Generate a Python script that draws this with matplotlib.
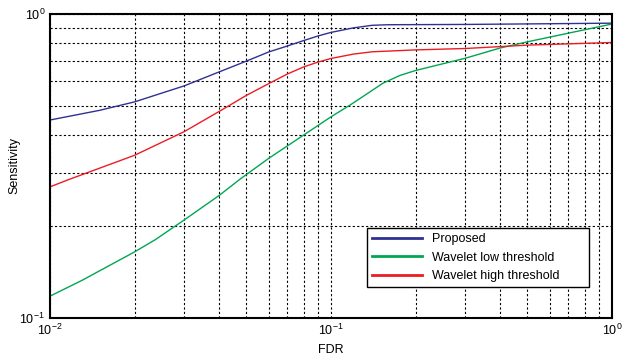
import matplotlib
matplotlib.use('Agg')
import matplotlib.pyplot as plt
from matplotlib.ticker import NullFormatter

plt.rcParams['font.family'] = ['Liberation Sans', 'DejaVu Sans']
plt.rcParams['mathtext.fontset'] = 'custom'
plt.rcParams['mathtext.rm'] = 'Liberation Sans'

# values (FDR vs sensitivity)
fdr_prop = [0.01, 0.015, 0.02, 0.03, 0.04, 0.05, 0.06, 0.07, 0.08, 0.09, 0.1, 0.12, 0.14, 0.16, 0.3, 0.6, 1.0]
sens_prop = [0.448, 0.482, 0.514, 0.58, 0.645, 0.70, 0.75, 0.785, 0.818, 0.847, 0.87, 0.90, 0.918, 0.922, 0.924, 0.929, 0.933]

fdr_low = [0.01, 0.013, 0.02, 0.0237, 0.03, 0.04, 0.0474, 0.06, 0.08, 0.1, 0.117, 0.135, 0.153, 0.176, 0.2, 0.3, 0.4, 0.5, 0.7, 1.0]
sens_low = [0.118, 0.133, 0.165, 0.181, 0.21, 0.253, 0.286, 0.335, 0.40, 0.459, 0.502, 0.548, 0.592, 0.628, 0.652, 0.715, 0.773, 0.81, 0.865, 0.927]

fdr_high = [0.01, 0.0115, 0.02, 0.03, 0.04, 0.05, 0.06, 0.07, 0.08, 0.09, 0.1, 0.12, 0.14, 0.2, 0.3, 0.5, 1.0]
sens_high = [0.27, 0.284, 0.343, 0.41, 0.478, 0.54, 0.59, 0.635, 0.67, 0.695, 0.714, 0.738, 0.751, 0.762, 0.77, 0.79, 0.806]

fig = plt.figure(figsize=(6.29, 3.6), dpi=100)
ax = fig.add_axes([0.0795, 0.1167, 0.8935, 0.8444])

ax.plot(fdr_prop, sens_prop, color='#2e3192', lw=1.0, label='Proposed')
ax.plot(fdr_low, sens_low, color='#00a651', lw=1.0, label='Wavelet low threshold')
ax.plot(fdr_high, sens_high, color='#ed1c24', lw=1.0, label='Wavelet high threshold')

ax.set_xscale('log')
ax.set_yscale('log')
ax.set_xlim(0.01, 1)
ax.set_ylim(0.1, 1)
ax.xaxis.set_minor_formatter(NullFormatter())
ax.yaxis.set_minor_formatter(NullFormatter())

ax.grid(True, which='both', color='black', linestyle=(0, (2, 2)), linewidth=0.8)
ax.tick_params(which='both', direction='in', labelsize=9, length=0)
for s in ax.spines.values():
    s.set_linewidth(1.5)

ax.set_xlabel('FDR', fontsize=9)
ax.set_ylabel('Sensitivity', fontsize=9)
ax.yaxis.set_label_coords(-0.052, 0.5)

leg = ax.legend(loc='lower left', bbox_to_anchor=(0.564, 0.102, 0.395, 0.27), mode='expand',
                fontsize=9, handlelength=4, fancybox=False, framealpha=1,
                edgecolor='black', borderaxespad=0)
leg.get_frame().set_linewidth(1.0)
for l in leg.get_lines():
    l.set_linewidth(2)

fig.savefig('out.png', dpi=100)
